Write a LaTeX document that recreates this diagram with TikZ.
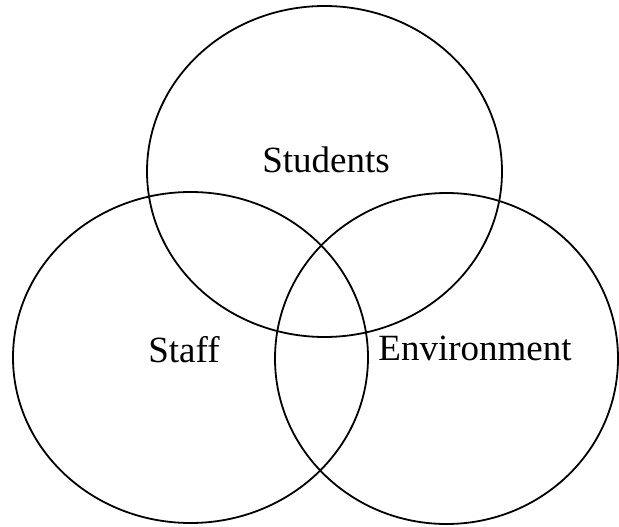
\documentclass[tikz,border=0pt]{standalone}
\usepackage{fontspec}
\setmainfont{Liberation Serif}
\usetikzlibrary{shapes.geometric}
\begin{document}
\begin{tikzpicture}[x=1pt,y=-1pt,
  setring/.style={ellipse, draw=black, line width=1.8pt, inner sep=0pt},
  setlabel/.style={font=\fontsize{37}{40}\selectfont, inner sep=0pt}]
\useasboundingbox (0,0) rectangle (619,527);
% the three overlapping sets
\node[setring, minimum width=355pt, minimum height=331pt] (students) at (324.5,171.5) {};
\node[setring, minimum width=355pt, minimum height=331pt] (staff) at (190.5,357.5) {};
\node[setring, minimum width=343pt, minimum height=331pt] (environment) at (446.5,358.5) {};
% set names
\node[setlabel, anchor=base] (studentsname) at (326,172) {Students};
\node[setlabel, anchor=base] (staffname) at (184,362) {Staff};
\node[setlabel, anchor=base] (environmentname) at (475,360) {Environment};
\end{tikzpicture}
\end{document}
